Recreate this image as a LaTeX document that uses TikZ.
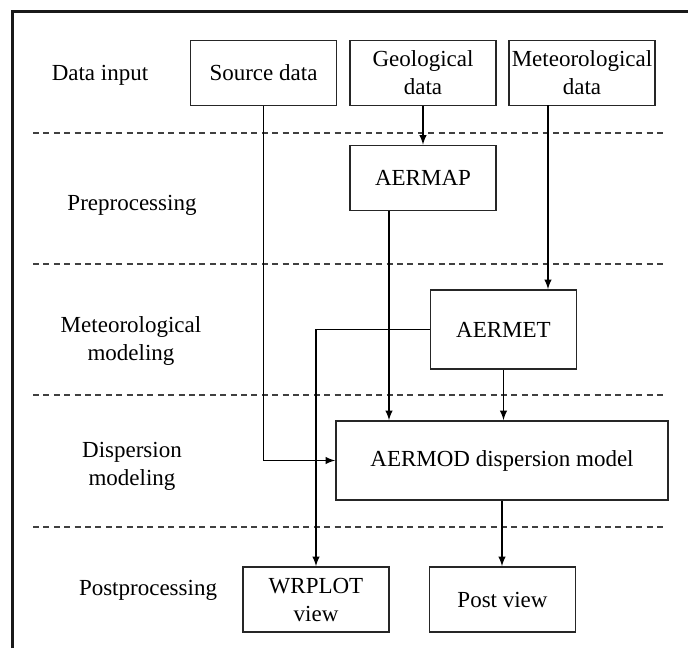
\documentclass[tikz,border=0pt]{standalone}
\usepackage{fontspec}
\setmainfont{Liberation Serif}

\begin{document}
\begin{tikzpicture}[
    x=0.5pt,y=-0.5pt,
    font=\fontsize{11.5}{14}\selectfont,
    box/.style={rectangle,draw=black!85,line width=0.8pt,minimum width=73pt,minimum height=32.5pt,inner sep=1pt,align=center},
    tallbox/.style={box,minimum height=39.5pt},
    stage/.style={align=center,inner sep=0pt},
    arrow/.style={-latex,line width=0.65pt},
    divider/.style={dash pattern=on 3pt off 2.2pt,line width=0.75pt,black!75},
    frame/.style={line width=1.5pt,black!90}
]
    \useasboundingbox (0,0) rectangle (688,648);
    \draw[frame] (12,648) -- (12,11) -- (688,11);

    % stage separators
    \foreach \y in {133,264,395,527}
        \draw[divider] (33,\y) -- (665,\y);

    % stage names
    \node[stage] (sinput) at (100,75) {Data input};
    \node[stage] (spre) at (132,205) {Preprocessing};
    \node[stage] (smet) at (131,341) {Meteorological\\modeling};
    \node[stage] (sdisp) at (132,466) {Dispersion\\modeling};
    \node[stage] (spost) at (148,590) {Postprocessing};

    % boxes
    \node[box] (src) at (263.5,73) {Source data};
    \node[box] (geo) at (423,73) {Geological\\data};
    \node[box] (met) at (582,73) {Meteorological\\data};
    \node[box] (aermap) at (423,178) {AERMAP};
    \node[tallbox] (aermet) at (503.5,329.5) {AERMET};
    \node[tallbox,minimum width=166pt] (aermod) at (502,460.5) {AERMOD dispersion model};
    \node[box] (wrplot) at (316,599.5) {WRPLOT\\view};
    \node[box] (post) at (502.5,599.5) {Post view};

    \coordinate (metout) at (548,105);
    \coordinate (mapout) at (389,211);

    \draw[arrow] (geo) -- (aermap);
    \draw[arrow] (metout) -- (metout |- aermet.north);
    \draw[arrow] (src.south) |- (aermod.west);
    \draw[arrow] (mapout) -- (mapout |- aermod.north);
    \draw[arrow] (aermet.south) -- (aermet.south |- aermod.north);
    \draw[arrow] (aermet.west) -| (wrplot.north);
    \draw[arrow] (aermod.south) -- (aermod.south |- post.north);
\end{tikzpicture}
\end{document}
